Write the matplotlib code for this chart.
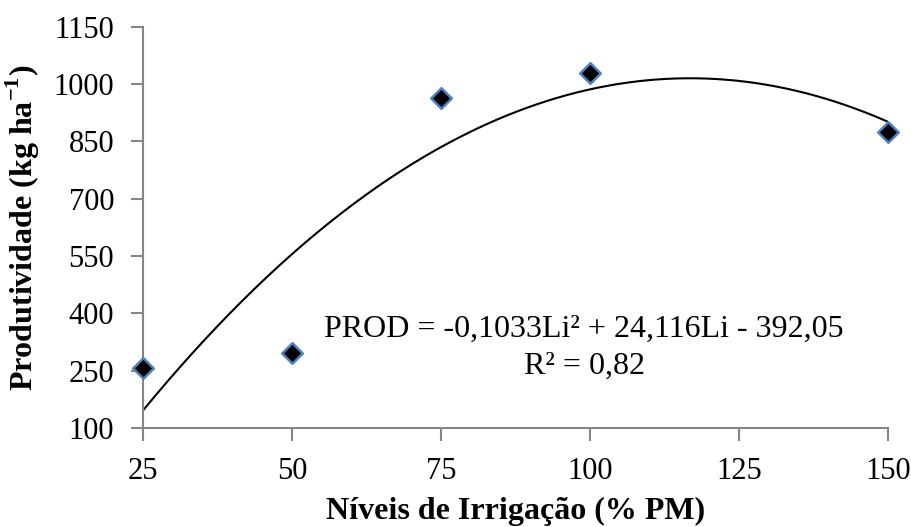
import numpy as np
import matplotlib.pyplot as plt

plt.rcParams['font.family'] = ['Liberation Serif', 'DejaVu Serif']
plt.rcParams['mathtext.fontset'] = 'custom'
plt.rcParams['mathtext.rm'] = 'Liberation Serif'
plt.rcParams['mathtext.bf'] = 'Liberation Serif:bold'

# dados observados
niveis = [25, 50, 75, 100, 150]
produtividade = [258, 295, 965, 1028, 875]

# coeficientes da regressão quadrática
a, b, c = -0.1033, 24.116, -392.05
x_ticks = [25, 50, 75, 100, 125, 150]
y_ticks = [100, 250, 400, 550, 700, 850, 1000, 1150]

fig = plt.figure(figsize=(9.12, 5.27), dpi=100)
ax = fig.add_axes([0.157, 0.188, 0.817, 0.761])

li = np.linspace(25, 150, 300)
ax.plot(li, a * li**2 + b * li + c, color='black', lw=1.5, zorder=2)
ax.scatter(niveis, produtividade, marker='D', s=110, facecolor='black',
           edgecolor='#4f81bd', linewidth=1.8, zorder=3, clip_on=False)

ax.set_xlim(25, 150)
ax.set_ylim(100, 1150)
ax.set_xticks(x_ticks)
ax.set_yticks(y_ticks)
for s in ['top', 'right']:
    ax.spines[s].set_visible(False)
for s in ['left', 'bottom']:
    ax.spines[s].set_color('#868686')
    ax.spines[s].set_linewidth(1.5)
ax.tick_params(direction='out', length=9, width=1.5, color='#868686',
               labelsize=22)
ax.tick_params(axis='y', pad=12)
ax.tick_params(axis='x', pad=12)

ax.set_xlabel('Níveis de Irrigação (% PM)', fontsize=23, fontweight='bold', labelpad=8)
ax.set_ylabel('Produtividade (kg ha$^{\\mathbf{-1}}$)', fontsize=23, fontweight='bold', labelpad=8)

ax.text(99, 357, 'PROD = -0,1033Li² + 24,116Li - 392,05', fontsize=23,
        ha='center', va='center')
ax.text(99, 260, 'R² = 0,82', fontsize=23, ha='center', va='center')

plt.savefig('out.png', dpi=100)
plt.close()
